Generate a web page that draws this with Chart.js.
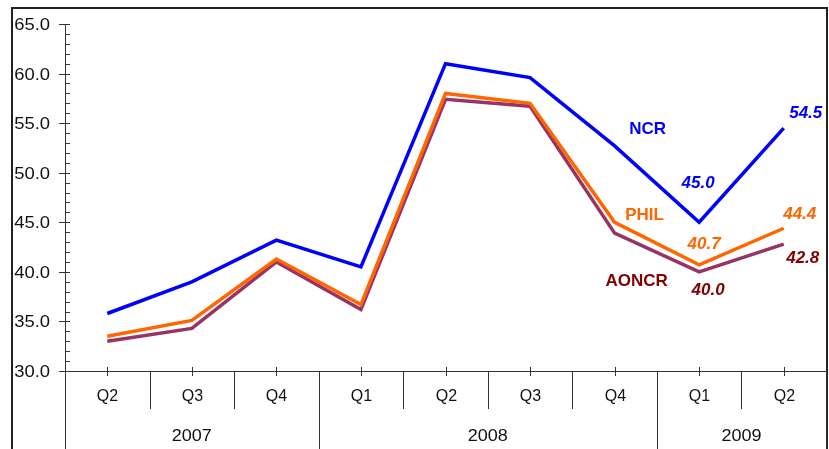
<!DOCTYPE html>
<html>
<head>
<meta charset="utf-8">
<script src="https://cdn.jsdelivr.net/npm/chart.js@4"></script>
<style>
  html, body { margin: 0; padding: 0; background: #fff; }
  #wrap { width: 829px; height: 449px; position: relative; }
</style>
</head>
<body>
<div id="wrap"><canvas id="chart" width="829" height="449"></canvas></div>
<script>
// data
const quarters = ['Q2', 'Q3', 'Q4', 'Q1', 'Q2', 'Q3', 'Q4', 'Q1', 'Q2'];
const quarterYears = ['2007', '2007', '2007', '2008', '2008', '2008', '2008', '2009', '2009'];
const ncr = [35.8, 39.0, 43.2, 40.5, 61.0, 59.6, 52.7, 45.0, 54.5];
const phil = [33.5, 35.1, 41.3, 36.7, 58.0, 57.0, 45.0, 40.7, 44.4];
const aoncr = [33.0, 34.3, 41.0, 36.2, 57.4, 56.7, 43.9, 40.0, 42.8];
const yMin = 30, yMax = 65, yMajor = 5;

const FONT = '"Liberation Sans", Arial, sans-serif';

// series name + end value labels (offsets in px from the point)
const seriesLabels = [
  { ds: 0, name: 'NCR', color: '#0000FF', nameAt: 6, nameDx: 33, nameDy: -17,
    values: [{ i: 7, dx: -1, dy: -39 }, { i: 8, dx: 22, dy: -15 }] },
  { ds: 1, name: 'PHIL', color: '#FF6600', nameAt: 6, nameDx: 30, nameDy: -7,
    values: [{ i: 7, dx: 5, dy: -21 }, { i: 8, dx: 16, dy: -14 }] },
  { ds: 2, name: 'AONCR', color: '#800000', nameAt: 6, nameDx: 22, nameDy: 48,
    values: [{ i: 7, dx: 9, dy: 18 }, { i: 8, dx: 19, dy: 14 }] },
];

// text slightly stretched sideways, like the source image
function wideText(ctx, text, x, y, sx) {
  ctx.save();
  ctx.translate(x, y);
  ctx.scale(sx, 1);
  ctx.fillText(text, 0, 0);
  ctx.restore();
}

// axes, frame and the two-row category axis
const axesPlugin = {
  id: 'axesPlugin',
  beforeDatasetsDraw(chart) {
    const { ctx, chartArea: a, scales: { x, y } } = chart;
    ctx.save();
    ctx.strokeStyle = '#222';
    ctx.lineWidth = 2;
    // outer frame
    ctx.strokeRect(12, 8, 815, 460);

    ctx.strokeStyle = '#333';
    ctx.lineWidth = 1;
    // y axis line, continued down through the category rows
    ctx.beginPath();
    ctx.moveTo(a.left + 0.5, a.top);
    ctx.lineTo(a.left + 0.5, 449);
    ctx.stroke();
    // y ticks
    y.ticks.forEach(t => {
      const py = Math.round(y.getPixelForValue(t.value)) + 0.5;
      const major = Math.round(t.value) % yMajor === 0;
      ctx.beginPath();
      ctx.moveTo(major ? a.left - 6 : a.left, py);
      ctx.lineTo(a.left + 5, py);
      ctx.stroke();
      if (major) {
        ctx.fillStyle = '#111';
        ctx.font = '16px ' + FONT;
        ctx.textAlign = 'right';
        ctx.textBaseline = 'middle';
        wideText(ctx, t.value.toFixed(1), a.left - 15, py + 1, 1.15);
      }
    });
    // x axis line
    ctx.beginPath();
    ctx.moveTo(a.left, a.bottom + 0.5);
    ctx.lineTo(a.right, a.bottom + 0.5);
    ctx.stroke();

    const half = (x.getPixelForValue(1) - x.getPixelForValue(0)) / 2;
    ctx.fillStyle = '#111';
    ctx.textAlign = 'center';
    ctx.textBaseline = 'middle';
    quarters.forEach((q, i) => {
      const px = Math.round(x.getPixelForValue(i)) + 0.5;
      // small tick at the category centre
      ctx.beginPath();
      ctx.moveTo(px, a.bottom - 4);
      ctx.lineTo(px, a.bottom + 5);
      ctx.stroke();
      ctx.font = '16px ' + FONT;
      wideText(ctx, q, px, 397, 1.0);
      // boundary on the right of this category
      const bx = Math.round(x.getPixelForValue(i) + half) + 0.5;
      const yearEnd = i === quarters.length - 1 || quarterYears[i + 1] !== quarterYears[i];
      ctx.beginPath();
      ctx.moveTo(bx, a.bottom);
      ctx.lineTo(bx, yearEnd ? 449 : 409);
      ctx.stroke();
    });
    // year labels centred under their quarters
    let start = 0;
    for (let i = 1; i <= quarterYears.length; i++) {
      if (i === quarterYears.length || quarterYears[i] !== quarterYears[start]) {
        const x0 = x.getPixelForValue(start) - half;
        const x1 = x.getPixelForValue(i - 1) + half;
        ctx.font = '17px ' + FONT;
        wideText(ctx, quarterYears[start], (x0 + x1) / 2, 436, 1.06);
        start = i;
      }
    }
    ctx.restore();
  },
  afterDatasetsDraw(chart) {
    const { ctx } = chart;
    ctx.save();
    ctx.textAlign = 'center';
    ctx.textBaseline = 'middle';
    seriesLabels.forEach(s => {
      const meta = chart.getDatasetMeta(s.ds);
      const data = chart.data.datasets[s.ds].data;
      ctx.fillStyle = s.color;
      const np = meta.data[s.nameAt];
      ctx.font = 'bold 17px ' + FONT;
      ctx.fillText(s.name, np.x + s.nameDx, np.y + s.nameDy);
      ctx.font = 'italic bold 17px ' + FONT;
      s.values.forEach(v => {
        const p = meta.data[v.i];
        ctx.fillText(data[v.i].toFixed(1), p.x + v.dx, p.y + v.dy);
      });
    });
    ctx.restore();
  }
};

function lineSet(label, data, color) {
  return {
    label: label,
    data: data,
    borderColor: color,
    backgroundColor: color,
    borderWidth: 3.5,
    borderJoinStyle: 'miter',
    pointRadius: 0,
    tension: 0,
    fill: false,
  };
}

new Chart(document.getElementById('chart'), {
  type: 'line',
  data: {
    labels: quarters,
    datasets: [
      lineSet('NCR', ncr, '#0000FF'),
      lineSet('PHIL', phil, '#FF6600'),
      lineSet('AONCR', aoncr, '#993366'),
    ],
  },
  options: {
    responsive: false,
    animation: false,
    layout: { padding: { left: 65, right: 3, top: 24, bottom: 78 } },
    plugins: { legend: { display: false }, tooltip: { enabled: false } },
    scales: {
      x: { display: false, offset: true },
      y: {
        display: false, min: yMin, max: yMax,
        ticks: { stepSize: 1, maxTicksLimit: 100, autoSkip: false },
      },
    },
  },
  plugins: [axesPlugin],
});
</script>
</body>
</html>
